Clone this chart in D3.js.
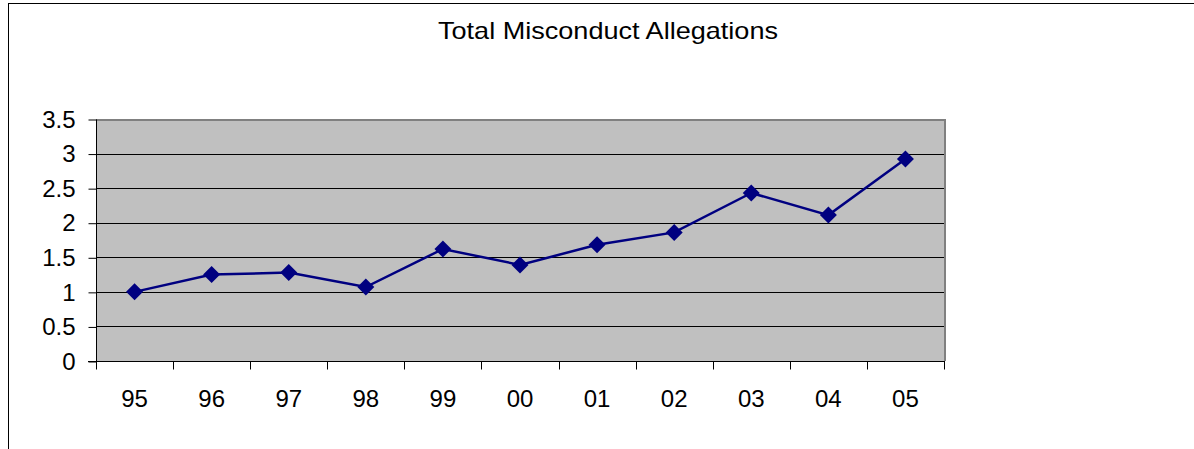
<!DOCTYPE html>
<html><head><meta charset="utf-8">
<script src="https://cdn.jsdelivr.net/npm/d3@7"></script>
<style>body{margin:0;background:#fff}svg{display:block}</style>
</head><body>
<svg id="c" width="1194" height="449"></svg>
<script>
const categories = ["95","96","97","98","99","00","01","02","03","04","05"];
const values = [1.0, 1.25, 1.28, 1.07, 1.62, 1.39, 1.68, 1.86, 2.43, 2.11, 2.92];
const yTicks = [0, 0.5, 1, 1.5, 2, 2.5, 3, 3.5];
const title = "Total Misconduct Allegations";

const svg = d3.select("#c");
const font = "'Liberation Sans', Arial, sans-serif";
// outer chart border (cropped at right/bottom)
svg.append("rect").attr("x", 8.5).attr("y", 3.5).attr("width", 1300).attr("height", 600)
  .attr("fill", "#fff").attr("stroke", "#000").attr("stroke-width", 1);

const L = 96, R = 944, T = 119, B = 361;
const x = d3.scaleBand().domain(categories).range([L, R]);
const y = d3.scaleLinear().domain([0, 3.5]).range([B, T]);

svg.append("rect").attr("x", L).attr("y", T).attr("width", R - L).attr("height", B - T)
  .attr("fill", "#c0c0c0");
// gridlines
svg.append("g").selectAll("line").data(yTicks.filter(d => d > 0 && d < 3.5)).join("line")
  .attr("x1", L).attr("x2", R).attr("y1", d => Math.round(y(d)) + 0.5).attr("y2", d => Math.round(y(d)) + 0.5)
  .attr("stroke", "#000").attr("stroke-width", 1);
// plot border (gray top/right)
svg.append("path").attr("d", `M${L},${T + 1}H${R + 1}V${B}`).attr("fill", "none")
  .attr("stroke", "#808080").attr("stroke-width", 2);

// y axis
const yAxis = d3.axisLeft(y).tickValues(yTicks).tickSize(8).tickPadding(13).tickFormat(d => String(d));
const gy = svg.append("g").attr("transform", `translate(${L + 0.5},0.5)`).call(yAxis);
gy.select(".domain").attr("stroke", "#000").attr("d", `M0,${T}V${B}`);
gy.selectAll(".tick text").attr("font-family", font).attr("font-size", 24).attr("fill", "#000");

// x axis with ticks at category boundaries
const gx = svg.append("g").attr("transform", `translate(0,${B + 0.5})`);
gx.append("line").attr("x1", L - 8).attr("x2", R + 1).attr("y1", 0).attr("y2", 0).attr("stroke", "#000");
const bounds = categories.map(c => x(c)).concat([R]);
gx.selectAll("line.t").data(bounds).join("line").attr("class", "t")
  .attr("x1", d => Math.round(d) + 0.5).attr("x2", d => Math.round(d) + 0.5)
  .attr("y1", 0).attr("y2", 8).attr("stroke", "#000");
gx.selectAll("text").data(categories).join("text")
  .attr("x", d => x(d) + x.bandwidth() / 2).attr("y", 45)
  .attr("text-anchor", "middle").attr("font-family", font).attr("font-size", 24).attr("fill", "#000")
  .text(d => d);

// line
const cx = (d, i) => x(categories[i]) + x.bandwidth() / 2;
svg.append("path").datum(values)
  .attr("d", d3.line().x(cx).y(d => y(d)))
  .attr("fill", "none").attr("stroke", "#000080").attr("stroke-width", 2.5);
svg.append("g").selectAll("path").data(values).join("path")
  .attr("transform", (d, i) => `translate(${cx(d, i)},${y(d)})`)
  .attr("d", "M0,-8.5L8.5,0L0,8.5L-8.5,0Z").attr("fill", "#000080");

svg.append("text").attr("x", 608).attr("y", 39).attr("text-anchor", "middle")
  .attr("font-family", font).attr("font-size", 24).attr("fill", "#000")
  .attr("textLength", 340).attr("lengthAdjust", "spacingAndGlyphs").text(title);
</script>
</body></html>
